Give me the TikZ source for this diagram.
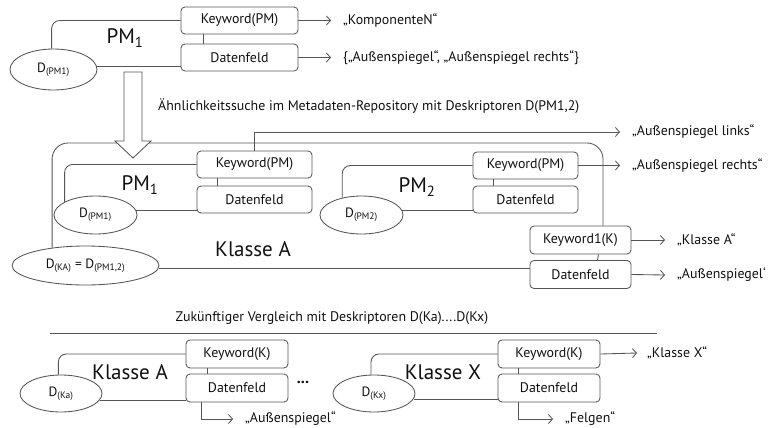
\documentclass[tikz,border=0pt]{standalone}
\usepackage{fontspec}
\setmainfont{PT Sans}
\usetikzlibrary{arrows.meta,shapes.geometric,calc}
\definecolor{lc}{HTML}{555555}
\definecolor{tc}{HTML}{111111}
\newcommand\mysub[1]{\textsubscript{#1}}
\begin{document}
\begin{tikzpicture}[x=1pt,y=-1pt,
  ln/.style={draw=lc,line width=0.85pt},
  box/.style={draw=lc,line width=0.85pt,rounded corners=4pt,minimum height=27pt,inner sep=0pt,font=\fontsize{13.9}{14}\selectfont,text=tc},
  ell/.style={ellipse,draw=lc,line width=0.85pt,inner sep=0pt,font=\fontsize{13.5}{14}\selectfont,text=tc},
  lbl/.style={inner sep=0pt,font=\fontsize{13.9}{14}\selectfont,text=tc},
  big/.style={inner sep=0pt,font=\fontsize{21}{22}\selectfont,text=tc},
  arr/.style={ln,-{Straight Barb[length=4pt,width=9pt]}},
  elb/.style={ln,rounded corners=8pt},
]
\fill[white] (0,0) rectangle (771,428);
\useasboundingbox (0,0) rectangle (771,428);

% ---------- top PM1 ----------
\node[box,minimum width=117pt] (kw0) at (239.5,20.5) {Keyword(PM)};
\node[box,minimum width=117pt] (df0) at (239.5,57.5) {Datenfeld};
\node[ell,minimum width=87pt,minimum height=41pt] (e0) at (53.5,69.5) {D\mysub{(PM1)}};
\node[big] (pm0) at (125,38) {PM\mysub{1}};
\node[lbl,anchor=west] (t0a) at (343,20.5) {„KomponenteN“};
\node[lbl,anchor=west] (t0b) at (343,57.5) {\{„Außenspiegel“, „Außenspiegel rechts“\}};
\draw[ln] ([xshift=-36pt]kw0.south) -- ([xshift=-36pt]df0.north);
\draw[elb] (e0.95) |- (kw0.west);
\draw[ln] (e0.4) -- (e0.4 -| df0.west);
\draw[arr] (kw0.east) -- ([xshift=-12pt]t0a.west);
\draw[arr] (df0.east) -- ([xshift=-12pt]t0b.west);

\node[lbl,anchor=west] (sim) at (158,106) {Ähnlichkeitssuche im Metadaten-Repository mit Deskriptoren D(PM1,2)};

% ---------- Klasse A container ----------
\node[ell,minimum width=147pt,minimum height=39pt] (eKA) at (85.5,265.5) {D\mysub{(KA)} = D\mysub{(PM1,2)}};
\node[box,minimum width=101pt,minimum height=28pt] (kw1) at (580.5,240) {Keyword1(K)};
\node[box,minimum width=101pt,minimum height=28pt] (df1) at (580.5,274.5) {Datenfeld};
\coordinate (cr) at (603,143);
\draw[ln,rounded corners=16pt] (eKA.152) |- (cr) -- (cr |- kw1.north);
\draw[ln] ([xshift=18pt]kw1.south) -- ([xshift=17pt]df1.north);
\draw[ln] (eKA.-2) -- (eKA.-2 -| df1.west);
\node[big] (kA) at (253,249) {Klasse A};
\node[lbl,anchor=west] (t1a) at (677,240) {„Klasse A“};
\node[lbl,anchor=west] (t1b) at (677,275) {„Außenspiegel‘};
\draw[arr] (kw1.east) -- ([xshift=-12pt]t1a.west);
\draw[arr] (df1.east) -- ([xshift=-12pt]t1b.west);

% block arrow
\draw[ln,fill=white] (124,72) -- (124,141) -- (115,141) -- (133,158) -- (151,141) -- (142,141) -- (142,72) -- cycle;

% inner PM1
\node[box,minimum width=115pt] (kwA) at (254.5,164.5) {Keyword(PM)};
\node[box,minimum width=115pt] (dfA) at (254.5,199.5) {Datenfeld};
\node[ell,minimum width=83pt,minimum height=38pt] (eA) at (95.5,215) {D\mysub{(PM1)}};
\node[big] (pmA) at (140,185) {PM\mysub{1}};
\draw[ln] ([xshift=-37pt]kwA.south) -- ([xshift=-37pt]dfA.north);
\draw[elb] (eA.157) |- (kwA.west);
\draw[ln] (eA.6) -- (eA.6 -| dfA.west);
\node[lbl,anchor=west] (tL) at (632,132) {„Außenspiegel links“};
\draw[arr] (kwA.north) |- ([xshift=-12pt]tL.west);

% inner PM2
\node[box,minimum width=105pt] (kwB) at (525.5,165.5) {Keyword(PM)};
\node[box,minimum width=105pt] (dfB) at (525.5,199.5) {Datenfeld};
\node[ell,minimum width=83pt,minimum height=38pt] (eB) at (361.5,215) {D\mysub{(PM2)}};
\node[big] (pmB) at (417,187) {PM\mysub{2}};
\draw[ln] ([xshift=-32pt]kwB.south) -- ([xshift=-32pt]dfB.north);
\draw[elb] (eB.138) |- (kwB.west);
\draw[ln] (eB.6) -- (eB.6 -| dfB.west);
\node[lbl,anchor=west] (tR) at (632,165.5) {„Außenspiegel rechts“};
\draw[arr] (kwB.east) -- ([xshift=-12pt]tR.west);

% ---------- separator ----------
\draw[ln] (50,333) -- (657,333);
\node[lbl] (fut) at (332,318) {Zukünftiger Vergleich mit Deskriptoren D(Ka)....D(Kx)};

% bottom Klasse A
\node[box,minimum width=102pt,minimum height=28pt] (kwC) at (237,354) {Keyword(K)};
\node[box,minimum width=102pt,minimum height=28pt] (dfC) at (237,388) {Datenfeld};
\node[ell,minimum width=82pt,minimum height=37pt] (eC) at (61,393.5) {D\mysub{(Ka)}};
\node[big] (kC) at (130,372) {Klasse A};
\draw[ln] ([xshift=-30pt]kwC.south) -- ([xshift=-30pt]dfC.north);
\draw[elb] (eC.98) |- (kwC.west);
\draw[ln] (eC.-10) -- (eC.-10 -| dfC.west);
\node[lbl,anchor=west] (tC) at (245,419) {„Außenspiegel“};
\draw[arr] ([xshift=-36pt]dfC.south) |- ([xshift=-12pt]tC.west);
\node[lbl,font=\fontsize{16}{16}\selectfont\bfseries] (dots) at (303,384) {···};

% bottom Klasse X
\node[box,minimum width=102pt,minimum height=28pt] (kwD) at (549,354) {Keyword(K)};
\node[box,minimum width=102pt,minimum height=28pt] (dfD) at (549,388) {Datenfeld};
\node[ell,minimum width=82pt,minimum height=37pt] (eD) at (374,393.5) {D\mysub{(Kx)}};
\node[big] (kD) at (443,372) {Klasse X};
\draw[ln] ([xshift=-31pt]kwD.south) -- ([xshift=-31pt]dfD.north);
\draw[elb] (eD.99) |- (kwD.west);
\draw[ln] (eD.-8) -- (eD.-8 -| dfD.west);
\node[lbl,anchor=west] (tD1) at (647,353) {„Klasse X“};
\draw[arr] (kwD.east) -- ([xshift=-10pt]tD1.west);
\node[lbl,anchor=west] (tD2) at (565,419) {„Felgen“};
\draw[arr] ([xshift=-31pt]dfD.south) |- ([xshift=-12pt]tD2.west);
\end{tikzpicture}
\end{document}
